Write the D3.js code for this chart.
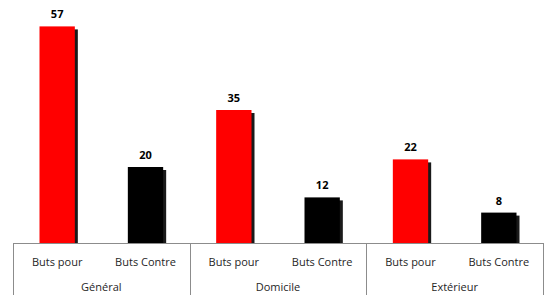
<!DOCTYPE html>
<html>
<head>
<meta charset="utf-8">
<script src="https://cdn.jsdelivr.net/npm/d3@7"></script>
<style>
  body { margin: 0; background: #fff; }
  text { font-family: "Open Sans", sans-serif; }
</style>
</head>
<body>
<svg id="chart" width="556" height="302"></svg>
<script>
// data
var groups = ["Général", "Domicile", "Extérieur"];
var series = ["Buts pour", "Buts Contre"];
var values = [57, 20, 35, 12, 22, 8];
var barColors = ["#ff0000", "#000000"];

var rows = [];
groups.forEach(function(g, gi){
  series.forEach(function(s, si){
    rows.push({ key: g + "|" + s, group: g, serie: s, si: si, value: values[gi * 2 + si] });
  });
});

var svg = d3.select('#chart');
var plotLeft = 13, plotRight = 543, plotBase = 243, plotTop = 15;

var x = d3.scaleBand()
  .domain(rows.map(function(d){ return d.key; }))
  .range([plotLeft, plotRight])
  .paddingInner(0.6)
  .paddingOuter(0.3);

var xg = d3.scaleBand()
  .domain(groups)
  .range([plotLeft, plotRight]);

var y = d3.scaleLinear().domain([0, 60]).range([plotBase, plotTop]);

// shadows
svg.selectAll('.shadow')
  .data(rows)
  .enter()
  .append('rect')
  .attr('class', 'shadow')
  .attr('x', function(d){ return x(d.key) + 3; })
  .attr('y', function(d){ return y(d.value) + 3; })
  .attr('width', x.bandwidth())
  .attr('height', function(d){ return plotBase - y(d.value) - 3; })
  .style('fill', '#1a1a1a');

// bars
svg.selectAll('.bar')
  .data(rows)
  .enter()
  .append('rect')
  .attr('class', 'bar')
  .attr('x', function(d){ return x(d.key); })
  .attr('y', function(d){ return y(d.value); })
  .attr('width', x.bandwidth())
  .attr('height', function(d){ return plotBase - y(d.value); })
  .style('fill', function(d){ return barColors[d.si]; });

// value labels
svg.selectAll('.val')
  .data(rows)
  .enter()
  .append('text')
  .attr('class', 'val')
  .attr('x', function(d){ return x(d.key) + x.bandwidth() / 2; })
  .attr('y', function(d){ return y(d.value) - 8; })
  .attr('text-anchor', 'middle')
  .style('font-size', '11px')
  .style('font-weight', 'bold')
  .style('fill', '#000')
  .text(function(d){ return d.value; });

// axis line
svg.append('line')
  .attr('x1', plotLeft).attr('x2', plotRight)
  .attr('y1', plotBase + 0.5).attr('y2', plotBase + 0.5)
  .style('stroke', '#8c8c8c');

// group dividers
var divs = groups.map(function(g){ return xg(g); }).concat([plotRight]);
svg.selectAll('.div')
  .data(divs)
  .enter()
  .append('line')
  .attr('x1', function(d){ return Math.round(d) + 0.5; })
  .attr('x2', function(d){ return Math.round(d) + 0.5; })
  .attr('y1', plotBase).attr('y2', 295)
  .style('stroke', '#8c8c8c');

// series labels
svg.selectAll('.tick')
  .data(rows)
  .enter()
  .append('text')
  .attr('x', function(d){ return x(d.key) + x.bandwidth() / 2; })
  .attr('y', 266)
  .attr('text-anchor', 'middle')
  .style('font-size', '11px')
  .style('fill', '#262626')
  .text(function(d){ return d.serie; });

// group labels
svg.selectAll('.grp')
  .data(groups)
  .enter()
  .append('text')
  .attr('x', function(d){ return xg(d) + xg.bandwidth() / 2; })
  .attr('y', 291)
  .attr('text-anchor', 'middle')
  .style('font-size', '11px')
  .style('fill', '#262626')
  .text(function(d){ return d; });
</script>
</body>
</html>
